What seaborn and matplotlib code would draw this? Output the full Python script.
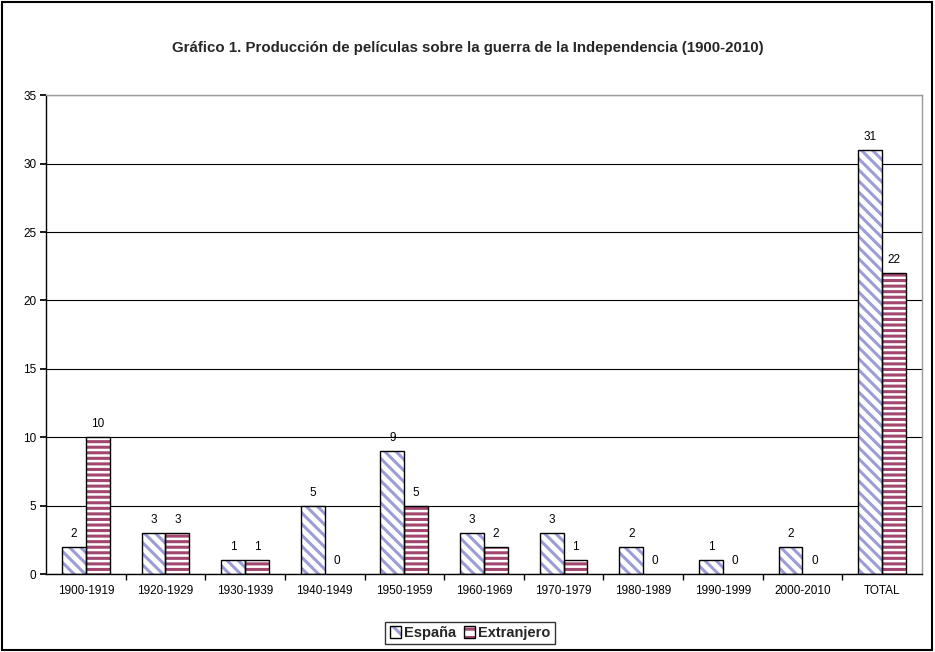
import matplotlib
matplotlib.use("Agg")
import matplotlib.pyplot as plt
import seaborn as sns
import pandas as pd
from matplotlib.patches import Rectangle, Patch
from matplotlib.legend_handler import HandlerTuple

categories = ["1900-1919", "1920-1929", "1930-1939", "1940-1949", "1950-1959",
              "1960-1969", "1970-1979", "1980-1989", "1990-1999", "2000-2010", "TOTAL"]
espana = [2, 3, 1, 5, 9, 3, 3, 2, 1, 2, 31]
extranjero = [10, 3, 1, 0, 5, 2, 1, 0, 0, 0, 22]
series = ["España", "Extranjero"]
title = "Gráfico 1. Producción de películas sobre la guerra de la Independencia (1900-2010)"

df = pd.DataFrame({
    "Periodo": categories * 2,
    "Películas": espana + extranjero,
    "Origen": [series[0]] * len(categories) + [series[1]] * len(categories),
})

sns.set_theme(style="white")
plt.rcParams["font.family"] = ["Liberation Sans", "DejaVu Sans"]
plt.rcParams["hatch.linewidth"] = 2.2

hatch_colors = {"España": "#9c9cd8", "Extranjero": "#a3466f"}
hatches = {"España": "\\\\\\", "Extranjero": "---"}

fig = plt.figure(figsize=(9.35, 6.52), dpi=100)
ax = fig.add_axes([0.0492, 0.1196, 0.9368, 0.7344])

sns.barplot(data=df, x="Periodo", y="Películas", hue="Origen", order=categories,
            hue_order=series, width=0.6, gap=0, ax=ax, legend=False,
            palette={"España": "white", "Extranjero": "white"}, errorbar=None)

for cont, name in zip(ax.containers, series):
    for p in cont.patches:
        p.set_facecolor("white")
        p.set_hatch(hatches[name])
        p.set_edgecolor(hatch_colors[name])
        p.set_linewidth(0)
        if p.get_height() > 0:
            ax.add_patch(Rectangle(p.get_xy(), p.get_width(), p.get_height(),
                                   fill=False, edgecolor="black", linewidth=1.0, zorder=3))
    ax.bar_label(cont, labels=[str(int(v)) for v in cont.datavalues], padding=5,
                 fontsize=8.5, color="black")

ax.set_ylim(0, 35)
ax.set_xlim(-0.5, len(categories) - 0.5)
ax.set_yticks(range(0, 36, 5))
ax.yaxis.grid(True, color="black", linewidth=0.8)
ax.set_axisbelow(True)
ax.set_xlabel("")
ax.set_ylabel("")
ax.tick_params(axis="y", labelsize=8.5, length=4, direction="out", left=True, colors="black", pad=3)
ax.tick_params(axis="x", labelsize=8.5, length=0, pad=8, colors="black")
ax.set_xticks([i + 0.5 for i in range(len(categories) - 1)], minor=True)
ax.tick_params(axis="x", which="minor", length=4, bottom=True, direction="out", color="black")
for s in ["left", "bottom"]:
    ax.spines[s].set_color("black")
    ax.spines[s].set_linewidth(1.0)
for s in ["top", "right"]:
    ax.spines[s].set_color("#9a9a9a")
    ax.spines[s].set_linewidth(1.0)

fig.text(0.5, 0.927, title, ha="center", va="center", fontsize=10.8, fontweight="bold")

handles = []
for n in series:
    hatched = Patch(facecolor="white", edgecolor=hatch_colors[n], hatch=hatches[n][:2], linewidth=0)
    border = Patch(facecolor="none", edgecolor="black", linewidth=1.0)
    handles.append((hatched, border))
leg = fig.legend(handles, series, loc="center", bbox_to_anchor=(0.503, 0.029), ncol=2,
                 frameon=True, fancybox=False, edgecolor="black", handlelength=0.8,
                 handleheight=0.8, handletextpad=0.2, columnspacing=0.5, borderpad=0.3,
                 handler_map={tuple: HandlerTuple(ndivide=1)},
                 prop={"weight": "bold", "size": 10.5})
leg.get_frame().set_linewidth(1.0)

fig.add_artist(Rectangle((0.002, 0.003), 0.995, 0.994, transform=fig.transFigure,
                         fill=False, edgecolor="black", linewidth=1.5))

fig.savefig("out.png", dpi=100)
